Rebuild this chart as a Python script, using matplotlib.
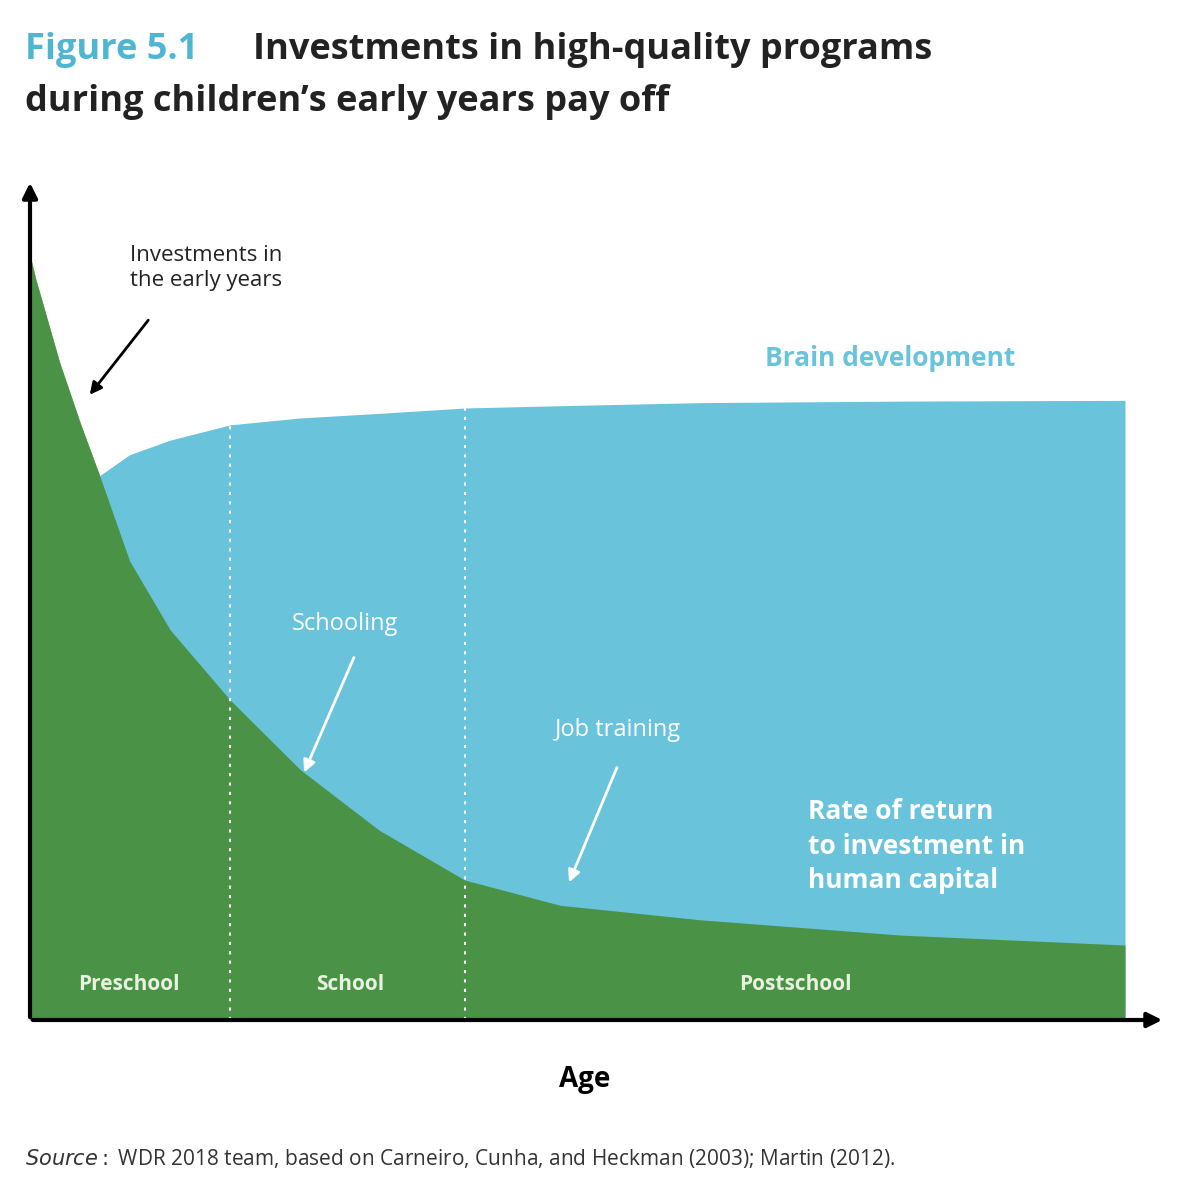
import matplotlib.pyplot as plt
import numpy as np

plt.rcParams['font.family'] = ['Open Sans', 'DejaVu Sans']

# age on a 0-100 scale, values on a 0-100 scale
age = [0, 0.5, 1.4, 2.7, 4.6, 6.4, 9.1, 12.8, 18.3, 24.7, 31.9, 39.7, 48.4, 61.2, 79.5, 100]
rate_of_return = [100, 97, 92.5, 86, 78, 71, 60, 51, 41.8, 32.7, 24.8, 18.3, 15, 13.1, 11.1, 9.8]
brain_dev = [39, 50, 59, 64.7, 68.6, 71.2, 73.9, 75.8, 77.8, 78.7, 79.3, 80, 80.3, 80.7, 80.9, 81]
stage_bounds = [18.3, 39.7]
stage_names = ["Preschool", "School", "Postschool"]
stage_centres = [9.0, 29.2, 69.9]

BLUE = "#69C3DA"
DARK_GREEN = "#4A9245"
LIGHT_GREEN = "#8CC152"

W, H = 1185, 1200
fig = plt.figure(figsize=(W / 100, H / 100), dpi=100)
ax = fig.add_axes([30 / W, 180 / H, 1135 / W, 840 / H])
ax.set_xlim(0, 1135 / 1095 * 100)
ax.set_ylim(0, 840 / 765 * 100)
ax.axis("off")

a = np.array(age)
r = np.array(rate_of_return)
b = np.array(brain_dev)
low = np.minimum(r, b)
ax.fill_between(a, 0, b, color=BLUE, lw=0)
ax.fill_between(a, b, r, where=r >= b, interpolate=True, color=LIGHT_GREEN, lw=0)
ax.fill_between(a, 0, r, color=DARK_GREEN, lw=0)

for xb in stage_bounds:
    ax.plot([xb, xb], [0, np.interp(xb, a, b)], color="white", ls=(0, (1.5, 3)), lw=1.5)
for name, xc in zip(stage_names, stage_centres):
    ax.text(xc, 4.6, name, color="#E8F2E0", fontsize=15, fontweight="bold",
            ha="center", va="center")

# axes with arrows
ax.annotate("", xy=(1, 0), xytext=(0, 0), xycoords="axes fraction",
            arrowprops=dict(arrowstyle="-|>", color="black", lw=3, mutation_scale=22))
ax.annotate("", xy=(0, 1), xytext=(0, 0), xycoords="axes fraction",
            arrowprops=dict(arrowstyle="-|>", color="black", lw=3, mutation_scale=22))

def px(x, y):
    return (x, H - y)

kw = dict(xycoords="figure pixels", textcoords="figure pixels")
ax.annotate("", xy=px(88, 397), xytext=px(150, 318), **kw,
            arrowprops=dict(arrowstyle="-|>", color="black", lw=2, mutation_scale=18))
fig.text(130 / W, 1 - 268 / H, "Investments in\nthe early years", fontsize=16,
         color="#222222", va="center", linespacing=1.3)
ax.annotate("", xy=px(303, 775), xytext=px(355, 655), **kw,
            arrowprops=dict(arrowstyle="-|>", color="white", lw=2, mutation_scale=18))
fig.text(292 / W, 1 - 624 / H, "Schooling", fontsize=17, color="white", va="center")
ax.annotate("", xy=px(568, 885), xytext=px(618, 765), **kw,
            arrowprops=dict(arrowstyle="-|>", color="white", lw=2, mutation_scale=18))
fig.text(555 / W, 1 - 730 / H, "Job training", fontsize=17, color="white", va="center")
fig.text(765 / W, 1 - 358 / H, "Brain development", fontsize=19, color=BLUE,
         fontweight="bold", va="center")
fig.text(808 / W, 1 - 846 / H, "Rate of return\nto investment in\nhuman capital",
         fontsize=19, color="white", fontweight="bold", va="center", linespacing=1.35)

fig.text(585 / W, 1 - 1080 / H, "Age", fontsize=20, fontweight="bold", ha="center", va="center")
fig.text(25 / W, 1 - 1158 / H, "$\\it{Source:}$ WDR 2018 team, based on Carneiro, Cunha, and Heckman (2003); Martin (2012).",
         fontsize=15, color="#333333", va="center")
fig.text(25 / W, 1 - 50 / H, "Figure 5.1", fontsize=26, fontweight="bold", color="#4FB6D2", va="center")
fig.text(253 / W, 1 - 50 / H, "Investments in high-quality programs", fontsize=26,
         fontweight="bold", color="#222222", va="center")
fig.text(25 / W, 1 - 102 / H, "during children\u2019s early years pay off", fontsize=26,
         fontweight="bold", color="#222222", va="center")

fig.savefig("out.png", dpi=100)
